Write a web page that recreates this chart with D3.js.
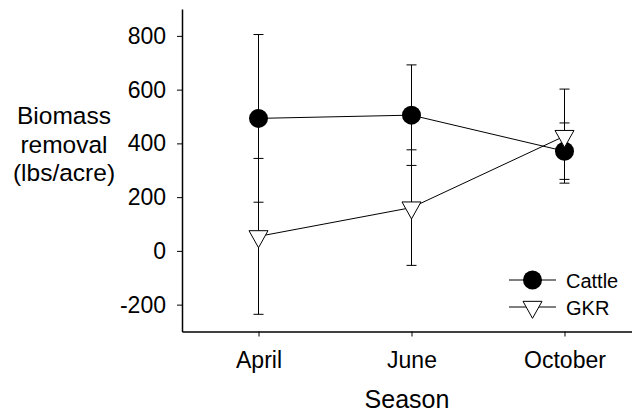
<!DOCTYPE html>
<html>
<head>
<meta charset="utf-8">
<script src="https://cdn.jsdelivr.net/npm/d3@7"></script>
<style>
    html, body { margin: 0; padding: 0; background: #fff; }
    svg { display: block; font-family: "Liberation Sans", Arial, sans-serif; }
</style>
</head>
<body>
<div id="chart"></div>
<script>
// chart data
var seasons      = ["April", "June", "October"];
var seriesNames  = ["Cattle", "GKR"];
var cattleMean   = [493, 505, 371];
var cattleErr    = [312, 187, 105];
var gkrMean      = [54, 161, 427];
var gkrErr       = [290, 215, 175];
var yTicks       = [-200, 0, 200, 400, 600, 800];
var yTitleLines  = ["Biomass", "removal", "(lbs/acre)"];

(function() {"use strict";

    var width  = 632,
        height = 413,
        svg    = d3.select("#chart").append("svg")
            .attr("width", width)
            .attr("height", height);

    // scales
    var xScale = d3.scaleLinear().domain([-0.5, 2.5]).range([182, 641]),
        yScale = d3.scaleLinear().domain([-300, 900]).range([331.5, 9]);

    var series = [
        {name: seriesNames[0], mean: cattleMean, err: cattleErr, shape: "circle"},
        {name: seriesNames[1], mean: gkrMean,    err: gkrErr,    shape: "triangle"}
    ];

    // down pointing triangle, centred on its centroid
    function triPath(cx, cy) {
        var w = 19, h = 17;
        return "M" + (cx - w / 2) + "," + (cy - h / 3) +
               "L" + (cx + w / 2) + "," + (cy - h / 3) +
               "L" + cx + "," + (cy + 2 * h / 3) + "Z";
    }

    // axes (plain hyphen for negatives, like the original)
    var yAxis = svg.append("g")
        .attr("transform", "translate(182,0)")
        .call(d3.axisLeft(yScale).tickValues(yTicks).tickSize(5).tickSizeOuter(0).tickPadding(11)
            .tickFormat(function(d) { return String(d); }));

    var xAxis = svg.append("g")
        .attr("transform", "translate(0,331.5)")
        .call(d3.axisBottom(xScale).tickValues([0, 1, 2]).tickSize(5).tickSizeOuter(0).tickPadding(15)
            .tickFormat(function(d) { return seasons[d]; }));

    [yAxis, xAxis].forEach(function(g) {
        g.select(".domain").attr("stroke", "#000").attr("stroke-width", 1.5);
        g.selectAll(".tick line").attr("stroke", "#000");
        g.selectAll(".tick text").attr("fill", "#000").style("font-size", "23px")
            .style("font-family", "'Liberation Sans', Arial, sans-serif");
    });

    // axis titles
    svg.append("text")
        .attr("x", 407).attr("y", 408)
        .attr("text-anchor", "middle")
        .style("font-size", "25px")
        .text("Season");

    svg.append("text")
        .attr("text-anchor", "middle")
        .style("font-size", "24.5px")
        .selectAll("tspan").data(yTitleLines).enter()
        .append("tspan")
        .attr("x", 64)
        .attr("y", function(d, i) { return 124 + i * 28.7; })
        .text(function(d) { return d; });

    var plot = svg.append("g");

    // error bars first
    series.forEach(function(s) {
        s.mean.forEach(function(m, i) {
            var cx = xScale(i), top = yScale(m + s.err[i]), bot = yScale(m - s.err[i]);
            plot.append("line").attr("x1", cx).attr("x2", cx).attr("y1", top).attr("y2", bot)
                .attr("stroke", "#000").attr("stroke-width", 1);
            [top, bot].forEach(function(y) {
                plot.append("line").attr("x1", cx - 5).attr("x2", cx + 5).attr("y1", y).attr("y2", y)
                    .attr("stroke", "#000").attr("stroke-width", 1);
            });
        });
    });

    // connecting lines
    var line = d3.line()
        .x(function(d, i) { return xScale(i); })
        .y(function(d) { return yScale(d); });

    series.forEach(function(s) {
        plot.append("path").attr("d", line(s.mean))
            .attr("fill", "none").attr("stroke", "#000").attr("stroke-width", 1);
    });

    // symbols
    function drawSymbol(g, shape, cx, cy) {
        if (shape === "circle") {
            g.append("circle").attr("cx", cx).attr("cy", cy).attr("r", 9.5).attr("fill", "#000");
        } else {
            g.append("path").attr("d", triPath(cx, cy))
                .attr("fill", "#fff").attr("stroke", "#000").attr("stroke-width", 1);
        }
    }

    series.forEach(function(s) {
        s.mean.forEach(function(m, i) {
            drawSymbol(plot, s.shape, xScale(i), yScale(m));
        });
    });

    // legend
    var legend = svg.append("g");
    series.forEach(function(s, i) {
        var ly = 280 + i * 27;
        legend.append("line").attr("x1", 509).attr("x2", 556).attr("y1", ly).attr("y2", ly)
            .attr("stroke", "#000").attr("stroke-width", 1);
        drawSymbol(legend, s.shape, 532.5, ly);
        legend.append("text").attr("x", 566).attr("y", ly + 7.5)
            .style("font-size", "20px")
            .text(s.name);
    });

})();
</script>
</body>
</html>
